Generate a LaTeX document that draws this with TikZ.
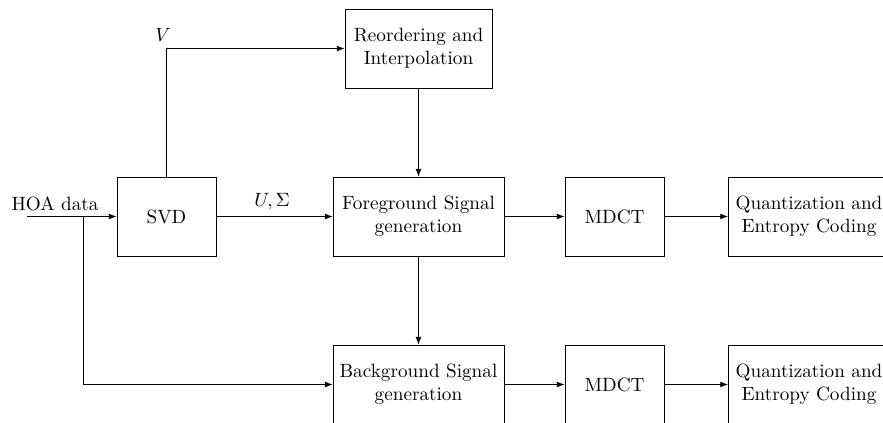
\documentclass[tikz,border=0pt]{standalone}
\usetikzlibrary{arrows.meta}
\begin{document}
\begin{tikzpicture}[x=0.5208pt,y=-0.5208pt,
  blk/.style={draw, align=center, minimum height=41.1pt, inner sep=3pt},
  arr/.style={-{Latex[length=4pt,width=3pt]}},
  lbl/.style={inner sep=0pt}]
\useasboundingbox (0,0) rectangle (883,422);
\node[blk, minimum width=51.6pt] (svd) at (166.5,216.5) {SVD};
\node[blk, minimum width=76.6pt] (reo) at (418.5,48.5) {Reordering and\\Interpolation};
\node[blk, minimum width=89pt] (fg) at (418.5,216.5) {Foreground Signal\\generation};
\node[blk, minimum width=51.6pt] (md1) at (614.5,216.5) {MDCT};
\node[blk, minimum width=84pt] (q1) at (809,216.5) {Quantization and\\Entropy Coding};
\node[blk, minimum width=89pt] (bg) at (418.5,384.5) {Background Signal\\generation};
\node[blk, minimum width=51.6pt] (md2) at (614.5,384.5) {MDCT};
\node[blk, minimum width=84pt] (q2) at (809,384.5) {Quantization and\\Entropy Coding};
\coordinate (in) at (27,216.5);
\coordinate (br) at (83,216.5);
\node[lbl] (hoa) at (55,204) {HOA data};
\node[lbl] (v) at (163,35) {$V$};
\node[lbl] (us) at (272,202) {$U,\Sigma$};
\draw[arr] (in) -- (svd.west);
\draw[arr] (svd.north) |- (reo.west);
\draw[arr] (svd.east) -- (fg.west);
\draw[arr] (reo.south) -- (fg.north);
\draw[arr] (fg.south) -- (bg.north);
\draw[arr] (fg.east) -- (md1.west);
\draw[arr] (md1.east) -- (q1.west);
\draw[arr] (br) |- (bg.west);
\draw[arr] (bg.east) -- (md2.west);
\draw[arr] (md2.east) -- (q2.west);
\end{tikzpicture}
\end{document}
